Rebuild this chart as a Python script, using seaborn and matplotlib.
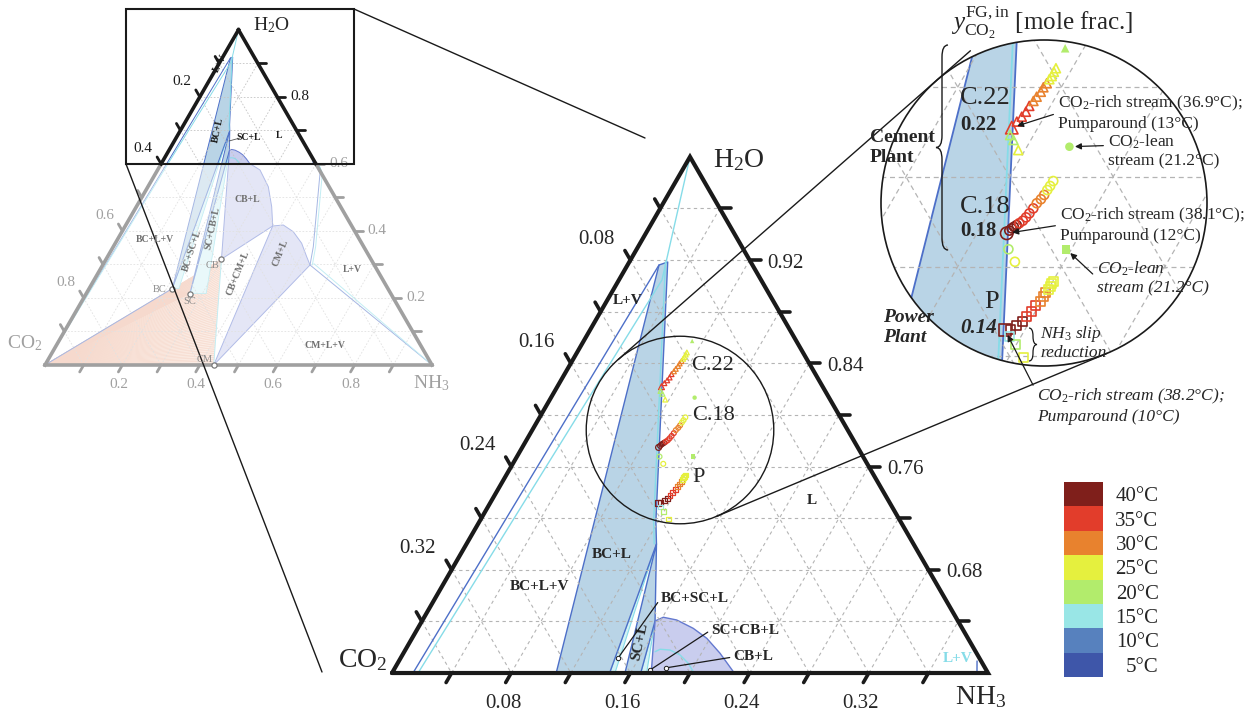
import numpy as np
import pandas as pd
import matplotlib
matplotlib.use("Agg")
import matplotlib.pyplot as plt
from matplotlib.patches import Polygon, Circle, Rectangle, PathPatch
from matplotlib.path import Path
from matplotlib.collections import LineCollection
from matplotlib.colors import ListedColormap
import seaborn as sns

sns.set_theme(style="white")
plt.rcParams["font.family"] = ["Liberation Serif", "DejaVu Serif"]
plt.rcParams["mathtext.fontset"] = "custom"
plt.rcParams["mathtext.rm"] = "Liberation Serif"
plt.rcParams["mathtext.it"] = "Liberation Serif:italic"
plt.rcParams["mathtext.bf"] = "Liberation Serif:bold"

SQ3 = np.sqrt(3) / 2

# ---------------------------------------------------------------
# NH3-CO2-H2O phase diagram, mass fractions given as (NH3, H2O);
# CO2 = 1 - NH3 - H2O
# ---------------------------------------------------------------
SOLID_NAMES = ["BC", "SC", "CB", "CM"]
SOLID_NH3 = [0.215, 0.268, 0.298, 0.436]
SOLID_H2O = [0.228, 0.213, 0.316, 0.000]

BCL_NH3 = [0.215, 0.0211, 0.0258, 0.1184, 0.1275]
BCL_H2O = [0.228, 0.9162, 0.9185, 0.7174, 0.7000]
SCL_NH3 = [0.268, 0.1275, 0.1564]
SCL_H2O = [0.213, 0.7000, 0.6403]
CBL_NH3 = [0.298, 0.1564, 0.1605, 0.1705, 0.1849, 0.1978, 0.2125, 0.2286,
           0.2647, 0.3110, 0.3496, 0.3810]
CBL_H2O = [0.316, 0.6403, 0.6432, 0.6411, 0.6346, 0.6269, 0.6153, 0.6010,
           0.5818, 0.5320, 0.4723, 0.4148]
CML_NH3 = [0.436, 0.3810, 0.4069, 0.4427, 0.4817, 0.5146, 0.5356]
CML_H2O = [0.000, 0.4148, 0.4177, 0.3977, 0.3631, 0.3231, 0.2984]
CBL2_NH3 = [0.1683, 0.1707, 0.1777, 0.1863, 0.1951, 0.2017, 0.2022]
CBL2_H2O = [0.6165, 0.6184, 0.6178, 0.6140, 0.6075, 0.6010, 0.6000]
STRIP1_NH3 = [0.215, 0.1275, 0.232]
STRIP1_H2O = [0.228, 0.7000, 0.228]
STRIP2_NH3 = [0.268, 0.1564, 0.310]
STRIP2_H2O = [0.213, 0.6403, 0.213]
SAT2_NH3 = [0.0243, 0.1169, 0.1260]
SAT2_H2O = [0.9185, 0.7174, 0.7000]
LVL_NH3 = [0.0, 0.0141, 0.0211]
LVL_H2O = [0.0, 0.6000, 0.9162]
LVL2_NH3 = [0.0, 0.0175, 0.0289, 0.0]
LVL2_H2O = [0.0, 0.6000, 0.9046, 1.0]
LVR_NH3 = [0.5356, 0.5168, 0.4246, 0.4036, 0.3926, 0.3880]
LVR_H2O = [0.2984, 0.3530, 0.5720, 0.5968, 0.6000, 0.6093]

# ---------------------------------------------------------------
# Absorber liquid profiles (NH3, H2O) and temperatures [degC]
# ---------------------------------------------------------------
C22_NH3 = [0.0699, 0.0705, 0.0713, 0.0718, 0.0718, 0.0723, 0.0726, 0.0731,
           0.0731, 0.0735, 0.0736, 0.0738, 0.0737, 0.0737]
C22_H2O = [0.8219, 0.8246, 0.8268, 0.8290, 0.8316, 0.8338, 0.8357, 0.8379,
           0.8399, 0.8417, 0.8435, 0.8449, 0.8468, 0.8484]
C22_T = [36.9, 36.0, 35.0, 34.0, 33.0, 32.0, 31.0, 30.0, 29.0, 28.0, 27.0, 26.0, 25.5, 25.0]
C22X_NH3 = [0.0709, 0.0733, 0.0774]
C22X_H2O = [0.8186, 0.8164, 0.8119]
C22X_T = [20.0, 20.0, 25.0]

C18_NH3 = [0.0915, 0.0919, 0.0923, 0.0928, 0.0935, 0.0941, 0.0949, 0.0954,
           0.0958, 0.0962, 0.0964, 0.0971, 0.0974, 0.0975, 0.0977, 0.0978]
C18_H2O = [0.7748, 0.7760, 0.7770, 0.7777, 0.7785, 0.7793, 0.7804, 0.7819,
           0.7837, 0.7859, 0.7882, 0.7900, 0.7919, 0.7941, 0.7959, 0.7981]
C18_T = [38.1, 38.6, 38.9, 38.7, 38.0, 37.0, 36.0, 35.0, 34.0, 33.0, 31.0, 30.0,
         28.0, 27.0, 26.0, 25.0]
C18X_NH3 = [0.0957, 0.1010]
C18X_H2O = [0.7677, 0.7621]
C18X_T = [20.0, 25.0]

P_NH3 = [0.1124, 0.1142, 0.1158, 0.1174, 0.1178, 0.1186, 0.1190, 0.1196,
         0.1198, 0.1199, 0.1200, 0.1200, 0.1200, 0.1201]
P_H2O = [0.7317, 0.7320, 0.7339, 0.7354, 0.7376, 0.7398, 0.7424, 0.7443,
         0.7465, 0.7483, 0.7498, 0.7513, 0.7525, 0.7535]
P_T = [38.2, 39.0, 39.0, 38.0, 36.0, 35.0, 34.0, 31.0, 30.0, 29.0, 27.0, 26.0, 25.5, 25.0]
PX_NH3 = [0.1158, 0.1197, 0.1259]
PX_H2O = [0.7287, 0.7253, 0.7193]
PX_T = [15.0, 20.0, 25.0]

LEAN_STREAMS = ["C.22", "C.18", "P"]
LEAN_NH3 = [0.0728, 0.0964, 0.1180]
LEAN_H2O = [0.8573, 0.8134, 0.7677]

TEMP_BINS = [5, 10, 15, 20, 25, 30, 35, 40]
TEMP_COLORS = ["#3e56a9", "#5781be", "#99e6e6", "#b2ec6c",
               "#e5f03e", "#e8822e", "#e23d2b", "#7f1f1b"]
PAL = {str(b): c for b, c in zip(TEMP_BINS, TEMP_COLORS)}
MARKERS = {"C.22": "^", "C.18": "o", "P": "s"}

BLUE, BLUE_FILL = "#4d6fc8", "#b9d4e6"
CYAN, CYAN_FILL = "#86dce8", "#d3f2f5"
LAV_FILL, LAV_EDGE = "#c9cdee", "#6479cf"


def tern(nh3, h2o):
    nh3 = np.asarray(nh3, float)
    h2o = np.asarray(h2o, float)
    return nh3 + 0.5 * h2o, SQ3 * h2o


def stream_rows(name, nh3, h2o, temps, first_is_start):
    x, y = tern(nh3, h2o)
    kind = ["run"] * len(nh3)
    if first_is_start:
        kind[0] = "start"
    return pd.DataFrame({"x": x, "y": y, "stream": name, "kind": kind,
                         "tbin": [str(int(5 * round(t / 5))) for t in temps]})


runs = pd.concat([
    stream_rows("C.22", C22_NH3, C22_H2O, C22_T, True),
    stream_rows("C.22", C22X_NH3, C22X_H2O, C22X_T, False),
    stream_rows("C.18", C18_NH3, C18_H2O, C18_T, True),
    stream_rows("C.18", C18X_NH3, C18X_H2O, C18X_T, False),
    stream_rows("P", P_NH3, P_H2O, P_T, True),
    stream_rows("P", PX_NH3, PX_H2O, PX_T, False),
], ignore_index=True)
lx, ly = tern(LEAN_NH3, LEAN_H2O)
lean = pd.DataFrame({"x": lx, "y": ly, "stream": LEAN_STREAMS})

# ---------------------------------------------------------------
W, H = 1247, 719
fig = plt.figure(figsize=(W / 100, H / 100), dpi=100)


def place(box, ox, oy, s):
    x0, y0, x1, y1 = box
    ax = fig.add_axes([x0 / W, 1 - y1 / H, (x1 - x0) / W, (y1 - y0) / H])
    ax.set_xlim((x0 - ox) / s, (x1 - ox) / s)
    ax.set_ylim((oy - y1) / s, (oy - y0) / s)
    ax.set_axis_off()
    ax.patch.set_alpha(0)
    return ax


def fill(ax, nh3, h2o, fc, ec, lw, clip, z=1.0):
    x, y = tern(nh3, h2o)
    p = Polygon(np.column_stack([x, y]), closed=True, fc=fc, ec=ec, lw=lw, zorder=z,
                joinstyle="round")
    ax.add_patch(p)
    if clip is not None:
        p.set_clip_path(clip)
    return p


def curve(ax, nh3, h2o, color, lw, clip, z=2.0):
    x, y = tern(nh3, h2o)
    ln, = ax.plot(x, y, color=color, lw=lw, zorder=z)
    if clip is not None:
        ln.set_clip_path(clip)
    return ln


def draw_phase(ax, lw, clip):
    fill(ax, STRIP1_NH3, STRIP1_H2O, CYAN_FILL, CYAN, lw * 0.8, clip, 1.0)
    fill(ax, STRIP2_NH3, STRIP2_H2O, CYAN_FILL, CYAN, lw * 0.8, clip, 1.0)
    fill(ax, BCL_NH3, BCL_H2O, BLUE_FILL, BLUE, lw, clip, 1.1)
    fill(ax, SCL_NH3, SCL_H2O, BLUE_FILL, BLUE, lw, clip, 1.1)
    fill(ax, CBL_NH3, CBL_H2O, LAV_FILL, LAV_EDGE, lw, clip, 1.1)
    fill(ax, CML_NH3, CML_H2O, LAV_FILL, LAV_EDGE, lw, clip, 1.1)
    curve(ax, CBL2_NH3, CBL2_H2O, CYAN, lw, clip)
    curve(ax, SAT2_NH3, SAT2_H2O, CYAN, lw, clip)
    curve(ax, LVL_NH3, LVL_H2O, BLUE, lw, clip)
    curve(ax, LVL2_NH3, LVL2_H2O, CYAN, lw, clip)
    curve(ax, [0.0, SOLID_NH3[0]], [0.0, SOLID_H2O[0]], BLUE, lw, clip)
    curve(ax, [SOLID_NH3[2], SOLID_NH3[3]], [SOLID_H2O[2], SOLID_H2O[3]], CYAN, lw, clip)
    curve(ax, [LVR_NH3[0], 1.0], [LVR_H2O[0], 0.0], BLUE, lw, clip)
    curve(ax, [LVR_NH3[0] + 0.008, 1.0], [LVR_H2O[0] + 0.004, 0.0], CYAN, lw, clip)
    curve(ax, LVR_NH3, LVR_H2O, BLUE, lw, clip)
    curve(ax, np.array(LVR_NH3) + 0.006, LVR_H2O, CYAN, lw, clip)


def grid(ax, lo, step, color, lw, clip, dashes):
    span = 1 - lo
    segs = []
    for v in np.arange(lo + step, 1 - 1e-9, step):
        segs.append([tern(0, v), tern(1 - v, v)])
    for a in np.arange(step, span - 1e-9, step):
        segs.append([tern(a, lo), tern(a, 1 - a)])
    for c in np.arange(step, span - 1e-9, step):
        segs.append([tern(0, 1 - c), tern(span - c, lo)])
    lc = LineCollection(segs, colors=color, linewidths=lw, linestyles=[(0, dashes)], zorder=1.5)
    ax.add_collection(lc)
    if clip is not None:
        lc.set_clip_path(clip)


def draw_streams(ax, big, clip):
    sizes = {"start": 80, "run": 42} if big else {"start": 18, "run": 12}
    sns.scatterplot(data=runs, x="x", y="y", hue="tbin", palette=PAL, style="stream",
                    markers=MARKERS, size="kind", sizes=sizes, legend=False, ax=ax, zorder=5)
    coll = ax.collections[-1]
    fc = np.array(coll.get_facecolors())
    coll.set_facecolors("none")
    coll.set_edgecolors(fc)
    coll.set_linewidths(1.2 if big else 0.9)
    if clip is not None:
        coll.set_clip_path(clip)
    sns.scatterplot(data=lean, x="x", y="y", style="stream", markers=MARKERS,
                    color=PAL["20"], s=(38 if big else 10), linewidth=0, legend=False,
                    ax=ax, zorder=5)
    coll = ax.collections[-1]
    if clip is not None:
        coll.set_clip_path(clip)


# ================= overview triangle (full composition range) =================
ax_s = place((0, 0, 470, 400), 45, 365, 387)
grid(ax_s, 0.0, 0.1, "#c4c4c4", 0.6, None, (2, 2))
fan_nh3 = [0.0, SOLID_NH3[0], SOLID_NH3[1], SOLID_NH3[2], SOLID_NH3[3]]
fan_h2o = [0.0, SOLID_H2O[0], SOLID_H2O[1], SOLID_H2O[2], SOLID_H2O[3]]
fill(ax_s, fan_nh3, fan_h2o, "#f8dccd", "none", 0, None, 0.9)
edge = np.column_stack(tern(fan_nh3[1:], fan_h2o[1:]))
tt = np.linspace(0, 1, 90)
seglen = np.r_[0, np.cumsum(np.hypot(*np.diff(edge, axis=0).T))]
pts = np.column_stack([np.interp(tt * seglen[-1], seglen, edge[:, 0]),
                       np.interp(tt * seglen[-1], seglen, edge[:, 1])])
ax_s.add_collection(LineCollection([[(0, 0), tuple(p)] for p in pts], colors="#eeb49b",
                                   linewidths=0.5, zorder=0.95))
draw_phase(ax_s, 0.7, None)
# fade the lower part of the overview
fx, fy = tern([0, 1, 0.4, 0], [0, 0, 0.6, 0.6])
ax_s.add_patch(Polygon(np.column_stack([fx, fy]), closed=True, fc="white", ec="none",
                       alpha=0.5, zorder=10))
sx, sy = tern(SOLID_NH3, SOLID_H2O)
ax_s.scatter(sx, sy, s=14, facecolors="white", edgecolors="#7a7a7a", linewidths=0.9, zorder=12)

GRAY = "#a0a0a0"
for (a0, b0), (a1, b1), col in [((0, 0), (0, 0.6), GRAY), ((0, 0.6), (0, 1), "k"),
                                ((1, 0), (0.4, 0.6), GRAY), ((0.4, 0.6), (0, 1), "k"),
                                ((0, 0), (1, 0), GRAY)]:
    x, y = tern([a0, a1], [b0, b1])
    ax_s.plot(x, y, color=col, lw=2.6, zorder=11, solid_capstyle="projecting", clip_on=False)
Ls = 8 / 387
for c in np.arange(0.1, 0.95, 0.1):
    bx, by = tern(0, 1 - c)
    col = "k" if 1 - c >= 0.6 - 1e-9 else GRAY
    ax_s.plot([bx, bx - 0.5 * Ls], [by, by + SQ3 * Ls], color=col, lw=2, zorder=11, clip_on=False)
    if round(c, 1) in (0.2, 0.4, 0.6, 0.8):
        ax_s.annotate(f"{c:.1f}", (bx, by), xytext=(-18, 15), textcoords="offset pixels",
                      ha="center", va="center", fontsize=11, color=col, zorder=12)
for v in np.arange(0.1, 0.95, 0.1):
    bx, by = tern(1 - v, v)
    col = "k" if v >= 0.6 + 1e-9 else GRAY
    ax_s.plot([bx, bx + Ls], [by, by], color=col, lw=2, zorder=11, clip_on=False)
    if round(v, 1) in (0.2, 0.4, 0.6, 0.8):
        ax_s.annotate(f"{v:.1f}", (bx, by), xytext=(13, 0), textcoords="offset pixels",
                      ha="left", va="center", fontsize=11, color=col, zorder=12)
for a in np.arange(0.1, 0.95, 0.1):
    bx, by = tern(a, 0)
    ax_s.plot([bx, bx - 0.5 * Ls], [by, by - SQ3 * Ls], color=GRAY, lw=2, zorder=11, clip_on=False)
    if round(a, 1) in (0.2, 0.4, 0.6, 0.8):
        ax_s.annotate(f"{a:.1f}", (bx, by), xytext=(-4, -20), textcoords="offset pixels",
                      ha="center", va="center", fontsize=11, color=GRAY, zorder=12)
ax_s.annotate(r"H$_2$O", tern(0, 1), xytext=(15, 5), textcoords="offset pixels",
              ha="left", va="center", fontsize=14)
ax_s.annotate(r"CO$_2$", tern(0, 0), xytext=(-3, 22), textcoords="offset pixels",
              ha="right", va="center", fontsize=14, color=GRAY)
ax_s.annotate(r"NH$_3$", tern(1, 0), xytext=(-19, -18), textcoords="offset pixels",
              ha="left", va="center", fontsize=14, color=GRAY)

# ================= main triangle (H2O >= 0.6) =================
ax_m = place((330, 140, 1000, 700), -55, 1447.23, 1490)
tx, ty = tern([0, 0.4, 0], [0.6, 0.6, 1.0])
tri = Polygon(np.column_stack([tx, ty]), closed=True, transform=ax_m.transData)
grid(ax_m, 0.6, 0.04, "#b4b4b4", 0.8, tri, (3, 3))
draw_phase(ax_m, 1.0, tri)
draw_streams(ax_m, False, None)
ax_m.plot(np.r_[tx, tx[0]], np.r_[ty, ty[0]], color="k", lw=3, zorder=8,
          solid_joinstyle="miter", clip_on=False)
Lm = 11 / 1490
for c in np.arange(0.04, 0.37, 0.04):
    bx, by = tern(0, 1 - c)
    ax_m.plot([bx, bx - 0.5 * Lm], [by, by + SQ3 * Lm], color="k", lw=2.6, clip_on=False, zorder=8)
    if int(round(c * 100)) % 8 == 0:
        ax_m.annotate(f"{c:.2f}", (bx, by), xytext=(-34, 21), textcoords="offset pixels",
                      ha="center", va="center", fontsize=15)
for v in np.arange(0.64, 0.97, 0.04):
    bx, by = tern(1 - v, v)
    ax_m.plot([bx, bx + Lm], [by, by], color="k", lw=2.6, clip_on=False, zorder=8)
    if int(round(v * 100)) % 8 == 4:
        ax_m.annotate(f"{v:.2f}", (bx, by), xytext=(18, -3), textcoords="offset pixels",
                      ha="left", va="center", fontsize=15)
for a in np.arange(0.04, 0.37, 0.04):
    bx, by = tern(a, 0.6)
    ax_m.plot([bx, bx - 0.5 * Lm], [by, by - SQ3 * Lm], color="k", lw=2.6, clip_on=False, zorder=8)
    if int(round(a * 100)) % 8 == 0:
        ax_m.annotate(f"{a:.2f}", (bx, by), xytext=(-8, -30), textcoords="offset pixels",
                      ha="center", va="center", fontsize=15)
ax_m.annotate(r"H$_2$O", tern(0, 1), xytext=(23, -3), textcoords="offset pixels",
              ha="left", va="center", fontsize=20)
ax_m.annotate(r"CO$_2$", tern(0, 0.6), xytext=(-4, 13), textcoords="offset pixels",
              ha="right", va="center", fontsize=20)
ax_m.annotate(r"NH$_3$", tern(0.4, 0.6), xytext=(-33, -24), textcoords="offset pixels",
              ha="left", va="center", fontsize=20)

# region pointers in the main triangle
PTR_NH3 = [0.1459, 0.1720, 0.1820]
PTR_H2O = [0.6116, 0.6023, 0.6040]
PTR_TXT = ["BC+SC+L", "SC+CB+L", "CB+L"]
PTR_POS = [(661, 598), (711, 630), (733, 657)]
px_, py_ = tern(PTR_NH3, PTR_H2O)
ax_m.scatter(px_, py_, s=10, facecolors="white", edgecolors="k", linewidths=0.7, zorder=7)

Xc, Yc = 0.49329, 0.68270
S2 = 2590
R = 163 / S2
ax_m.add_patch(Circle((Xc, Yc), R, fc="none", ec="k", lw=1.0, zorder=7))

# ================= magnified circle =================
ax_in = place((881, 40, 1207, 366), 1044 - Xc * S2, 203 + Yc * S2, S2)
circ = Circle((Xc, Yc), R, transform=ax_in.transData)
ax_in.add_patch(Circle((Xc, Yc), R, fc="white", ec="none", zorder=0))
grid(ax_in, 0.6, 0.04, "#b4b4b4", 0.9, circ, (4, 3))
draw_phase(ax_in, 1.3, circ)
draw_streams(ax_in, True, circ)

# ================= temperature legend =================
ax_leg = fig.add_axes([1064 / W, 1 - 677 / H, 39 / W, 195 / H])
temps_desc = TEMP_BINS[::-1]
sns.heatmap(np.array(temps_desc, float)[:, None], cmap=ListedColormap(TEMP_COLORS),
            vmin=2.5, vmax=42.5, cbar=False, ax=ax_leg, xticklabels=False,
            yticklabels=[f"{t}°C" for t in temps_desc], linewidths=0)
ax_leg.yaxis.tick_right()
ax_leg.tick_params(axis="y", length=0, pad=40, labelsize=15, labelrotation=0)
for lbl in ax_leg.get_yticklabels():
    lbl.set_ha("right")
for sp in ax_leg.spines.values():
    sp.set_visible(False)

# ================= annotation layer (figure pixels) =================
ax_o = fig.add_axes([0, 0, 1, 1])
ax_o.set_xlim(0, W)
ax_o.set_ylim(H, 0)
ax_o.set_axis_off()
ax_o.patch.set_alpha(0)

ax_o.add_patch(Rectangle((126, 9), 228, 155, fill=False, ec="k", lw=1.5))
ax_o.plot([354, 645], [9, 138], color="k", lw=1.0)
ax_o.plot([126, 322], [164, 672], color="k", lw=1.0)

c1 = np.array([680.0, 430.0])
r1 = R * 1490
c2 = np.array([1044.0, 203.0])
r2 = 163.0
d = c2 - c1
D = np.hypot(*d)
base_ang = np.arctan2(d[1], d[0])
phi = np.arccos((r2 - r1) / D)
for sgn in (1, -1):
    ang = base_ang + sgn * phi
    n = np.array([np.cos(ang), np.sin(ang)])
    t1 = c1 - r1 * n
    t2 = c2 - r2 * n
    if t2[1] < c2[1]:
        t2 = t2 + (t2 - t1) / np.hypot(*(t2 - t1)) * 45
    ax_o.plot([t1[0], t2[0]], [t1[1], t2[1]], color="k", lw=1.0)
ax_o.add_patch(Circle((1044, 203), 163, fill=False, ec="k", lw=1.2))

# overview region labels
for txt, x, y, rot, col in [("L+V", 220, 63, 62, "k"), ("BC+L", 218, 130, 78, "k"),
                            ("SC+L", 249, 138, 0, "k"), ("L", 279, 136, 0, "k"),
                            ("BC+L+V", 155, 240, 0, "#6f6f6f"), ("BC+SC+L", 192, 250, 72, "#6f6f6f"),
                            ("SC+CB+L", 213, 228, 78, "#6f6f6f"), ("CB+L", 247, 200, 0, "#6f6f6f"),
                            ("CB+CM+L", 238, 273, 68, "#6f6f6f"), ("CM+L", 280, 253, 68, "#6f6f6f"),
                            ("L+V", 352, 270, 0, "#6f6f6f"), ("CM+L+V", 325, 345, 0, "#6f6f6f")]:
    ax_o.text(x, y, txt, rotation=rot, color=col, fontsize=7, fontweight="bold",
              ha="center", va="center")
ax_o.plot([240, 229], [138, 141], color="#555555", lw=0.6)
for txt, x, y in [("BC", 160, 289), ("SC", 190, 302), ("CB", 212, 266), ("CM", 205, 359)]:
    ax_o.text(x, y, txt, color="#8a8a8a", fontsize=7.5, ha="center", va="center")

# main triangle region labels
for txt, x, y, rot in [("L+V", 628, 300, 0), ("BC+L", 612, 555, 0), ("BC+L+V", 540, 587, 0),
                       ("L", 812, 500, 0), ("SC+L", 640, 642, 78)]:
    ax_o.text(x, y, txt, rotation=rot, fontsize=11, fontweight="bold", ha="center", va="center")
ax_o.text(958, 658, "L+V", fontsize=11, fontweight="bold", color=CYAN, ha="center", va="center")
for (nx, ny), txt, (tx_, ty_) in zip(zip(PTR_NH3, PTR_H2O), PTR_TXT, PTR_POS):
    ax_o.annotate(txt, xy=tern(nx, ny), xycoords=ax_m.transData, xytext=(tx_, ty_),
                  textcoords=ax_o.transData, ha="left", va="center", fontsize=11,
                  fontweight="bold",
                  arrowprops=dict(arrowstyle="-", color="k", lw=0.9, shrinkA=0, shrinkB=2,
                                  relpos=(0, 0.5)))
for txt, x, y in [("C.22", 691, 365), ("C.18", 692, 415), ("P", 692, 478)]:
    ax_o.text(x, y, txt, fontsize=16, ha="left", va="center")

# magnified circle labels
ax_o.text(951, 30, r"$y^{\mathrm{FG,in}}_{\mathrm{CO_2}}$ [mole frac.]", fontsize=18,
          ha="left", va="baseline")
ax_o.text(960, 98, "C.22", fontsize=19, ha="left", va="center")
ax_o.text(960, 125, "0.22", fontsize=15, fontweight="bold", ha="left", va="center")
ax_o.text(960, 207, "C.18", fontsize=19, ha="left", va="center")
ax_o.text(960, 231, "0.18", fontsize=15, fontweight="bold", ha="left", va="center")
ax_o.text(984, 302, "P", fontsize=19, ha="left", va="center")
ax_o.text(960, 328, "0.14", fontsize=15, fontweight="bold", fontstyle="italic",
          ha="left", va="center")
ax_o.text(870, 137, "Cement", fontsize=14, fontweight="bold", ha="left", va="center")
ax_o.text(870, 157, "Plant", fontsize=14, fontweight="bold", ha="left", va="center")
ax_o.text(883, 317, "Power", fontsize=14, fontweight="bold", fontstyle="italic",
          ha="left", va="center")
ax_o.text(883, 338, "Plant", fontsize=14, fontweight="bold", fontstyle="italic",
          ha="left", va="center")


def brace(xe, y0, y1, w, direction, lw=1.0):
    ym = 0.5 * (y0 + y1)
    xs = xe + direction * w / 2
    xt = xe + direction * w
    r = min(w, (y1 - y0) / 4)
    verts = [(xe, y0), (xs, y0), (xs, y0 + r), (xs, ym - r), (xs, ym), (xt, ym),
             (xs, ym), (xs, ym + r), (xs, y1 - r), (xs, y1), (xe, y1)]
    codes = [Path.MOVETO, Path.CURVE3, Path.CURVE3, Path.LINETO, Path.CURVE3, Path.CURVE3,
             Path.CURVE3, Path.CURVE3, Path.LINETO, Path.CURVE3, Path.CURVE3]
    ax_o.add_patch(PathPatch(Path(verts, codes), fill=False, ec="k", lw=lw))


brace(948, 45, 250, 12, -1)
brace(1029, 328, 361, 8, 1, lw=0.9)
ax_o.text(1040, 334, r"NH$_3$ slip", fontsize=12.5, fontstyle="italic", ha="left", va="center")
ax_o.text(1040, 353, "reduction", fontsize=12.5, fontstyle="italic", ha="left", va="center")


def note(txt, target, pos, relpos, style="normal"):
    ax_o.annotate(txt, xy=target, xycoords=ax_in.transData, xytext=pos,
                  textcoords=ax_o.transData, ha="left", va="center", fontsize=12.5,
                  fontstyle=style, annotation_clip=False,
                  arrowprops=dict(arrowstyle="-|>", color="k", lw=0.9, shrinkA=1, shrinkB=4,
                                  mutation_scale=9, relpos=relpos))


note("CO$_2$-rich stream (36.9°C);\nPumparound (13°C)", tern(C22_NH3[0], C22_H2O[0]),
     (1058, 113), (0, 0.5))
note("CO$_2$-lean\nstream (21.2°C)", tern(LEAN_NH3[1], LEAN_H2O[1]), (1108, 151), (0, 0.65))
note("CO$_2$-rich stream (38.1°C);\nPumparound (12°C)", tern(C18_NH3[0], C18_H2O[0]),
     (1060, 225), (0, 0.5))
note("CO$_2$-lean\nstream (21.2°C)", tern(LEAN_NH3[2], LEAN_H2O[2]), (1097, 278), (0, 0.5),
     "italic")
note("CO$_2$-rich stream (38.2°C);\nPumparound (10°C)", tern(P_NH3[0], P_H2O[0]),
     (1037, 406), (0, 0.85), "italic")

fig.savefig("out.png", dpi=100)
